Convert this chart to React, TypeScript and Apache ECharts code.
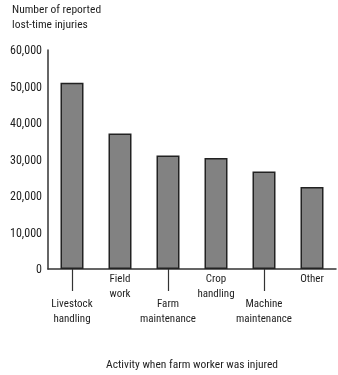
import React, { useEffect, useRef } from "react";
import * as echarts from "echarts";

const categories = [
  "Livestock\nhandling",
  "Field\nwork",
  "Farm\nmaintenance",
  "Crop\nhandling",
  "Machine\nmaintenance",
  "Other",
];
const injuries = [51000, 37100, 31100, 30400, 26700, 22500];
const yTicks = [0, 10000, 20000, 30000, 40000, 50000, 60000];
const yTitle = "Number of reported\nlost-time injuries";
const xTitle = "Activity when farm worker was injured";

const FONT = "'Roboto Condensed', 'Liberation Sans', sans-serif";
const TXT = "#1e1e1e";

export default function App() {
  const ref = useRef<HTMLDivElement>(null);
  useEffect(() => {
    if (!ref.current) return;
    const chart = echarts.init(ref.current, null, { renderer: "svg" });
    const fmt = (v: number) => v.toLocaleString("en-US");
    chart.setOption({
      animation: false,
      textStyle: { fontFamily: FONT, color: TXT },
      title: {
        text: yTitle,
        left: 12,
        top: 1,
        padding: 0,
        textStyle: { fontFamily: FONT, fontSize: 11.5, fontWeight: "normal", color: TXT, lineHeight: 15 },
      },
      grid: { left: 48, right: 2, top: 50, bottom: 96, containLabel: false },
      xAxis: [
        {
          type: "category",
          data: categories,
          position: "bottom",
          axisLine: { show: true, lineStyle: { color: "#333", width: 1.5 } },
          axisTick: { show: false },
          axisLabel: {
            interval: 0,
            margin: 2,
            fontFamily: FONT,
            fontSize: 11,
            color: TXT,
            lineHeight: 15,
            formatter: (v: string, i: number) => (i % 2 === 1 ? v : ""),
          },
          name: xTitle,
          nameLocation: "middle",
          nameGap: 89,
          nameTextStyle: { fontFamily: FONT, fontSize: 11.5, color: TXT },
        },
        {
          type: "category",
          data: categories,
          position: "bottom",
          axisLine: { show: false },
          axisTick: {
            show: true,
            alignWithLabel: true,
            interval: (i: number) => i % 2 === 0,
            length: 22,
            lineStyle: { color: "#333", width: 1.2 },
          },
          axisLabel: {
            interval: 0,
            margin: 27,
            fontFamily: FONT,
            fontSize: 11,
            color: TXT,
            lineHeight: 15,
            formatter: (v: string, i: number) => (i % 2 === 0 ? v : ""),
          },
        },
      ],
      yAxis: {
        type: "value",
        min: yTicks[0],
        max: yTicks[yTicks.length - 1],
        interval: 10000,
        axisLine: { show: true, lineStyle: { color: "#333", width: 1.5 } },
        axisTick: { show: false },
        splitLine: { show: false },
        axisLabel: { margin: 6, fontFamily: FONT, fontSize: 12, color: TXT, formatter: fmt },
      },
      series: [
        {
          type: "bar",
          data: injuries,
          xAxisIndex: 0,
          barWidth: 23,
          itemStyle: { color: "#828282", borderColor: "#222", borderWidth: 1.5 },
        },
      ],
    });
    return () => chart.dispose();
  }, []);
  return <div ref={ref} style={{ width: 338, height: 375, position: "fixed", left: 0, top: 0 }} />;
}
